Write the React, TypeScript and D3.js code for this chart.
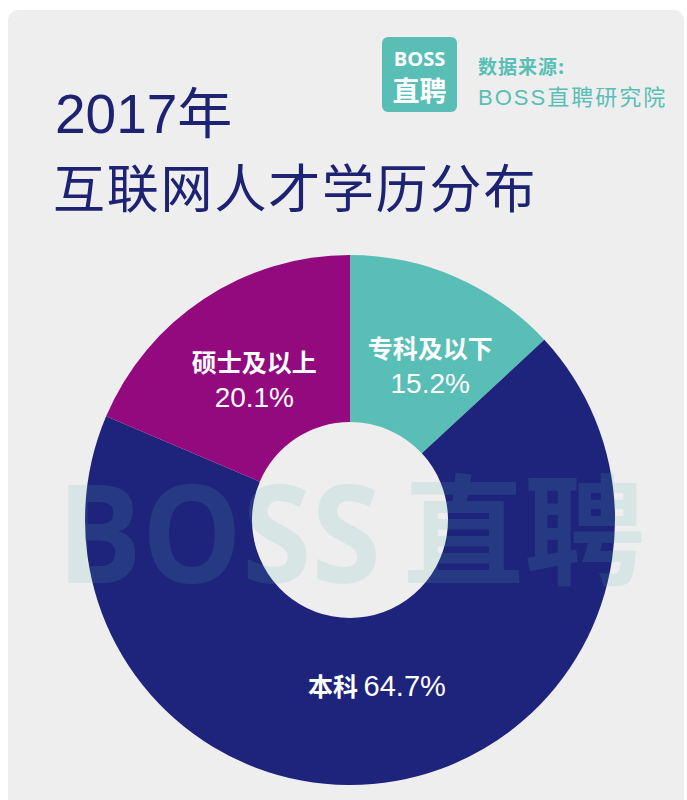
import React, { useEffect, useRef } from "react";
import * as d3 from "d3";

// slice sizes as drawn in the picture (degrees share), and the printed labels
const categories = ["专科及以下", "本科", "硕士及以上"];
const sliceShares = [13.1, 68.3, 18.6];
const percentLabels = ["15.2%", "64.7%", "20.1%"];
const colors = ["#59beb6", "#1e237b", "#920a7e"];

const titleLines = ["2017年", "互联网人才学历分布"];
const sourceLines = ["数据来源:", "BOSS直聘研究院"];

const W = 687;
const H = 800;
const cx = 350;
const cy = 520;
const outerR = 265;
const innerR = 98;
const labelR = 168;

const CJK = "'Noto Sans CJK SC', sans-serif";
const LATIN = "'Liberation Sans', Arial, 'Noto Sans CJK SC', sans-serif";

const App = () => {
  const ref = useRef<SVGSVGElement>(null);

  useEffect(() => {
    const svg = d3.select(ref.current);
    svg.selectAll("*").remove();

    // background card
    svg.append("rect").attr("width", W).attr("height", H).attr("fill", "#ffffff");
    svg
      .append("rect")
      .attr("x", 8)
      .attr("y", 10)
      .attr("width", 676)
      .attr("height", 810)
      .attr("rx", 10)
      .attr("fill", "#eeeeee");

    // title
    svg
      .append("text")
      .attr("x", 55)
      .attr("y", 133)
      .attr("font-family", LATIN)
      .attr("font-size", 55)
      .attr("fill", "#1e2272")
      .text(titleLines[0]);
    svg
      .append("text")
      .attr("x", 53)
      .attr("y", 208)
      .attr("font-family", CJK)
      .attr("font-size", 52)
      .attr("letter-spacing", 1.8)
      .attr("fill", "#1e2272")
      .text(titleLines[1]);

    // logo
    svg
      .append("rect")
      .attr("x", 382)
      .attr("y", 37)
      .attr("width", 75)
      .attr("height", 75)
      .attr("rx", 6)
      .attr("fill", "#59beb6");
    svg
      .append("text")
      .attr("x", 419.5)
      .attr("y", 66)
      .attr("text-anchor", "middle")
      .attr("font-family", "'Open Sans', 'Noto Sans', sans-serif")
      .attr("font-weight", "bold")
      .attr("font-size", 20)
      .attr("fill", "#ffffff")
      .text("BOSS");
    svg
      .append("text")
      .attr("x", 419.5)
      .attr("y", 101)
      .attr("text-anchor", "middle")
      .attr("font-family", CJK)
      .attr("font-weight", "bold")
      .attr("font-size", 27)
      .attr("fill", "#ffffff")
      .text("直聘");

    // source
    svg
      .append("text")
      .attr("x", 478)
      .attr("y", 74)
      .attr("font-family", CJK)
      .attr("font-weight", "bold")
      .attr("font-size", 19)
      .attr("letter-spacing", 1)
      .attr("fill", "#59beb6")
      .text(sourceLines[0]);
    svg
      .append("text")
      .attr("x", 478)
      .attr("y", 105)
      .attr("font-family", LATIN)
      .attr("font-size", 22)
      .attr("letter-spacing", 2)
      .attr("fill", "#59beb6")
      .text(sourceLines[1]);

    // donut
    const data = categories.map((c, i) => ({ name: c, value: sliceShares[i], label: percentLabels[i] }));
    const pie = d3
      .pie<{ name: string; value: number; label: string }>()
      .value((d) => d.value)
      .sort(null);
    const arc = d3.arc<d3.PieArcDatum<any>>().innerRadius(innerR).outerRadius(outerR);
    const labelArc = d3.arc<d3.PieArcDatum<any>>().innerRadius(labelR).outerRadius(labelR);
    const arcs = pie(data);

    const g = svg.append("g").attr("transform", `translate(${cx},${cy})`);
    g.selectAll("path")
      .data(arcs)
      .enter()
      .append("path")
      .attr("d", arc as any)
      .attr("fill", (d, i) => colors[i]);

    // labels
    const nudge = [13, -2, -3];
    arcs.forEach((d, i) => {
      const [x, y] = labelArc.centroid(d);
      const lx = x + nudge[i];
      if (d.data.name === "本科") {
        const t = g
          .append("text")
          .attr("x", lx)
          .attr("y", y + 11)
          .attr("text-anchor", "middle")
          .attr("fill", "#ffffff");
        t.append("tspan")
          .attr("font-family", CJK)
          .attr("font-weight", "bold")
          .attr("font-size", 25)
          .text(d.data.name + " ");
        t.append("tspan").attr("font-family", LATIN).attr("font-size", 29).text(d.data.label);
      } else {
        g.append("text")
          .attr("x", lx)
          .attr("y", y - 8)
          .attr("text-anchor", "middle")
          .attr("font-family", CJK)
          .attr("font-weight", "bold")
          .attr("font-size", 25)
          .attr("fill", "#ffffff")
          .text(d.data.name);
        g.append("text")
          .attr("x", lx)
          .attr("y", y + 27)
          .attr("text-anchor", "middle")
          .attr("font-family", LATIN)
          .attr("font-size", 28)
          .attr("fill", "#ffffff")
          .text(d.data.label);
      }
    });

    // watermark
    const wm = svg.append("g").attr("fill", "#59beb6").attr("fill-opacity", 0.15);
    wm.append("text")
      .attr("x", 57)
      .attr("y", 583)
      .attr("font-family", "'Open Sans', 'Noto Sans', sans-serif")
      .attr("font-weight", "bold")
      .attr("font-size", 136)
      .attr("textLength", 324)
      .attr("lengthAdjust", "spacingAndGlyphs")
      .text("BOSS");
    wm.append("text")
      .attr("x", 403)
      .attr("y", 576)
      .attr("font-family", CJK)
      .attr("font-weight", "bold")
      .attr("font-size", 120)
      .attr("textLength", 242)
      .attr("lengthAdjust", "spacingAndGlyphs")
      .text("直聘");
  }, []);

  return (
    <div style={{ position: "absolute", left: 0, top: 0 }}>
      <svg ref={ref} width={W} height={H} style={{ display: "block" }} />
    </div>
  );
};

export default App;
